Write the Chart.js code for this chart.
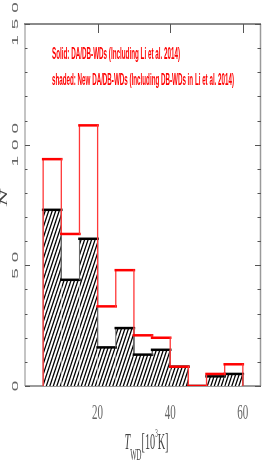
<!DOCTYPE html>
<html>
<head>
<meta charset="utf-8">
<script src="https://cdn.jsdelivr.net/npm/chart.js@4/dist/chart.umd.min.js"></script>
<style>
  html, body { margin: 0; padding: 0; background: #fff; }
  #wrap { width: 262px; height: 463px; }
</style>
</head>
<body>
<div id="wrap"><canvas id="histChart" width="262" height="463"></canvas></div>
<script>
// histogram bins (10^3 K) and counts per bin
const binEdges = [5, 10, 15, 20, 25, 30, 35, 40, 45, 50, 55, 60];
const solidCounts = [94, 63, 108, 33, 48, 21, 20, 8, 0, 5, 9];
const shadedCounts = [73, 44, 61, 16, 24, 13, 15, 8, 0, 4, 5];

const xTickValues = [20, 40, 60];
const yTickValues = [0, 50, 100, 150];
const yMinorStep = 10;

const legendLines = [
    'Solid: DA/DB-WDs (Including Li et al. 2014)',
    'shaded: New DA/DB-WDs (Including DB-WDs in Li et al. 2014)'
];
const yTitle = 'N';
// x title pieces: T_WD [10^3 K]
const xTitleParts = [
    { t: 'T', size: 24, style: 'italic', dy: 0 },
    { t: 'WD', size: 16, style: 'normal', dy: 11 },
    { t: '[10', size: 24, style: 'normal', dy: 0 },
    { t: '3', size: 12, style: 'normal', dy: -12 },
    { t: 'K]', size: 24, style: 'normal', dy: 0 }
];

function stepPoints(edges, counts) {
    const pts = [{ x: edges[0], y: 0 }];
    counts.forEach((c, i) => {
        pts.push({ x: edges[i], y: c });
        pts.push({ x: edges[i + 1], y: c });
    });
    pts.push({ x: edges[edges.length - 1], y: 0 });
    return pts;
}

function makeHatch() {
    const c = document.createElement('canvas');
    c.width = 7;
    c.height = 21;
    const g = c.getContext('2d');
    g.fillStyle = '#fff';
    g.fillRect(0, 0, 7, 21);
    g.strokeStyle = '#000';
    g.lineWidth = 1.3;
    for (let x0 = -7; x0 <= 7; x0 += 3.5) {
        g.beginPath();
        g.moveTo(x0, 21);
        g.lineTo(x0 + 7, 0);
        g.stroke();
    }
    return g.createPattern(c, 'repeat');
}

const isVertical = ctx => ctx.p0.parsed.x === ctx.p1.parsed.x;

// old plotting package look: text squeezed horizontally
function drawRotatedChars(ctx, text, x, yCenter, pitch, font, color) {
    ctx.save();
    ctx.font = font;
    ctx.fillStyle = color;
    ctx.textAlign = 'center';
    ctx.textBaseline = 'middle';
    const n = text.length;
    for (let i = 0; i < n; i++) {
        const y = yCenter + ((n - 1) / 2 - i) * pitch;
        ctx.save();
        ctx.translate(x, y);
        ctx.rotate(-Math.PI / 2);
        ctx.scale(1, 0.45);
        ctx.fillText(text[i], 0, 0);
        ctx.restore();
    }
    ctx.restore();
}

function drawFitted(ctx, text, left, baseline, width, font, color) {
    ctx.save();
    ctx.font = font;
    ctx.fillStyle = color;
    ctx.textAlign = 'left';
    ctx.textBaseline = 'alphabetic';
    const w = ctx.measureText(text).width;
    ctx.translate(left, baseline);
    ctx.scale(width / w, 1);
    ctx.fillText(text, 0, 0);
    ctx.restore();
}

const axisDecor = {
    id: 'axisDecor',
    beforeDatasetsDraw(chart) {
        const { ctx, chartArea: a, scales: { x, y } } = chart;
        ctx.save();
        // frame
        ctx.lineWidth = 2;
        ctx.strokeStyle = '#c4c4c4';
        ctx.beginPath(); ctx.moveTo(a.left, a.top); ctx.lineTo(a.left, a.bottom); ctx.stroke();
        ctx.strokeStyle = '#8a8a8a';
        ctx.beginPath(); ctx.moveTo(a.left - 1, a.top); ctx.lineTo(a.right, a.top); ctx.stroke();
        ctx.lineWidth = 1.5;
        ctx.strokeStyle = '#9a9a9a';
        ctx.beginPath(); ctx.moveTo(a.right - 0.5, a.top); ctx.lineTo(a.right - 0.5, a.bottom); ctx.stroke();
        ctx.strokeStyle = '#7a7a7a';
        ctx.beginPath(); ctx.moveTo(a.left, a.bottom); ctx.lineTo(a.right, a.bottom); ctx.stroke();
        // y ticks, both sides
        ctx.strokeStyle = '#555';
        ctx.lineWidth = 1;
        const yMax = yTickValues[yTickValues.length - 1];
        for (let v = 0; v <= yMax; v += yMinorStep) {
            const py = Math.round(y.getPixelForValue(v)) + 0.5;
            const major = yTickValues.includes(v);
            ctx.beginPath();
            ctx.moveTo(a.left, py); ctx.lineTo(a.left + (major ? 5 : 2.5), py);
            ctx.moveTo(a.right, py); ctx.lineTo(a.right - (major ? 6 : 3.5), py);
            ctx.stroke();
        }
        // x ticks on top
        xTickValues.forEach(v => {
            const px = Math.round(x.getPixelForValue(v)) + 0.5;
            ctx.beginPath();
            ctx.moveTo(px, a.top); ctx.lineTo(px, a.top + 9);
            ctx.stroke();
        });
        ctx.restore();
    },
    afterDatasetsDraw(chart) {
        const { ctx, scales: { x, y } } = chart;
        // y tick labels
        yTickValues.forEach(v => {
            drawRotatedChars(ctx, String(v), 16, y.getPixelForValue(v), 16.5,
                '19px "Liberation Sans"', '#666');
        });
        // y title
        drawRotatedChars(ctx, yTitle, 4, 198, 0, 'italic 25px "Liberation Serif"', '#444');
        // x tick labels
        xTickValues.forEach(v => {
            const px = x.getPixelForValue(v);
            ctx.save();
            ctx.font = '20px "Liberation Serif"';
            ctx.fillStyle = '#666';
            ctx.textAlign = 'center';
            ctx.textBaseline = 'alphabetic';
            ctx.translate(px, 419);
            ctx.scale(0.55, 1);
            ctx.fillText(String(v), 0, 0);
            ctx.restore();
        });
        // x title
        ctx.save();
        let total = 0;
        xTitleParts.forEach(p => {
            ctx.font = p.style + ' ' + p.size + 'px "Liberation Serif"';
            p.w = ctx.measureText(p.t).width;
            total += p.w;
        });
        const targetW = 44;
        const s = targetW / total;
        ctx.translate(146.5 - targetW / 2, 449);
        ctx.scale(s, 1);
        ctx.fillStyle = '#444';
        ctx.textBaseline = 'alphabetic';
        let cx = 0;
        xTitleParts.forEach(p => {
            ctx.font = p.style + ' ' + p.size + 'px "Liberation Serif"';
            ctx.fillText(p.t, cx, p.dy);
            cx += p.w;
        });
        ctx.restore();
        // legend text
        drawFitted(ctx, legendLines[0], 52, 59, 128, 'bold 17px "Liberation Sans"', '#f00');
        drawFitted(ctx, legendLines[1], 52, 85, 182, 'bold 17px "Liberation Sans"', '#f00');
    }
};

const chart = new Chart(
    document.getElementById('histChart'),
    {
        type: 'line',
        data: {
            datasets: [
                {
                    label: 'Solid',
                    data: stepPoints(binEdges, solidCounts),
                    borderColor: '#ff0000',
                    borderWidth: 2.5,
                    fill: false,
                    order: 0,
                    segment: {
                        borderWidth: ctx => isVertical(ctx) ? 1.3 : 2.5,
                        borderColor: ctx => isVertical(ctx) ? '#ff3838' : '#ff0000'
                    }
                },
                {
                    label: 'shaded',
                    data: stepPoints(binEdges, shadedCounts),
                    borderColor: '#000',
                    borderWidth: 2.5,
                    backgroundColor: makeHatch(),
                    fill: 'origin',
                    order: 1,
                    segment: {
                        borderWidth: ctx => isVertical(ctx) ? 1 : 2.5,
                        borderColor: ctx => isVertical(ctx) ? '#666' : '#000'
                    }
                }
            ]
        },
        options: {
            responsive: false,
            animation: false,
            layout: { padding: { left: 25, right: 1, top: 24, bottom: 77 } },
            elements: { point: { radius: 0 }, line: { tension: 0, borderCapStyle: 'square' } },
            plugins: {
                legend: { display: false },
                tooltip: { enabled: false }
            },
            scales: {
                x: { type: 'linear', min: 0, max: 65, display: false },
                y: { min: 0, max: 150, display: false }
            }
        },
        plugins: [axisDecor]
    }
);
</script>
</body>
</html>
